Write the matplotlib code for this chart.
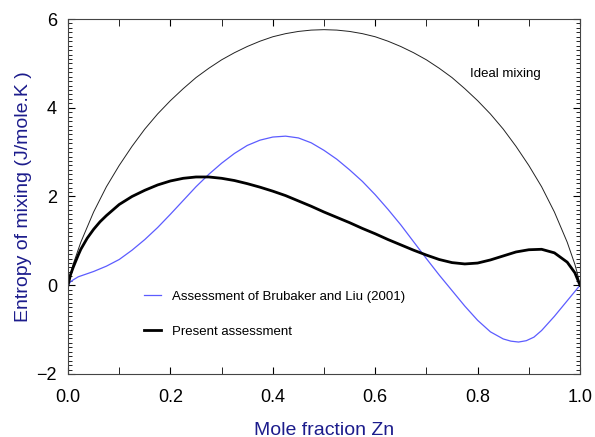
import matplotlib.pyplot as plt
from matplotlib.ticker import MultipleLocator

plt.rcParams['font.family'] = ['Liberation Sans', 'DejaVu Sans']

# ideal mixing curve
x_ideal = [0, 0.005, 0.01, 0.025, 0.05, 0.075, 0.1, 0.125, 0.15, 0.175, 0.2, 0.225, 0.25,
           0.275, 0.3, 0.325, 0.35, 0.375, 0.4, 0.425, 0.45, 0.475, 0.5, 0.525, 0.55, 0.575,
           0.6, 0.625, 0.65, 0.675, 0.7, 0.725, 0.75, 0.775, 0.8, 0.825, 0.85, 0.875, 0.9,
           0.925, 0.95, 0.975, 0.99, 0.995, 1.0]
s_ideal = [0, 0.26, 0.47, 0.97, 1.65, 2.22, 2.70, 3.13, 3.52, 3.86, 4.16, 4.43, 4.68,
           4.89, 5.08, 5.24, 5.38, 5.50, 5.60, 5.67, 5.72, 5.75, 5.76, 5.75, 5.72, 5.67,
           5.60, 5.50, 5.38, 5.24, 5.08, 4.89, 4.68, 4.43, 4.16, 3.86, 3.52, 3.13, 2.70,
           2.22, 1.65, 0.97, 0.47, 0.26, 0]

# Brubaker and Liu (2001)
x_brub = [0, 0.005, 0.01, 0.02, 0.025, 0.05, 0.075, 0.1, 0.125, 0.15, 0.175, 0.2, 0.225,
          0.25, 0.275, 0.3, 0.325, 0.35, 0.375, 0.4, 0.425, 0.45, 0.475, 0.5, 0.525, 0.55,
          0.575, 0.6, 0.625, 0.65, 0.675, 0.7, 0.725, 0.75, 0.775, 0.8, 0.825, 0.85, 0.865,
          0.88, 0.895, 0.91, 0.925, 0.95, 0.975, 1.0]
s_brub = [0, 0.08, 0.12, 0.19, 0.21, 0.31, 0.43, 0.58, 0.79, 1.03, 1.30, 1.60, 1.91,
          2.22, 2.50, 2.75, 2.97, 3.15, 3.27, 3.34, 3.36, 3.32, 3.21, 3.04, 2.84, 2.60,
          2.34, 2.04, 1.71, 1.36, 0.98, 0.60, 0.23, -0.12, -0.47, -0.79, -1.05, -1.21, -1.26,
          -1.28, -1.25, -1.17, -1.02, -0.70, -0.35, 0.0]

# present assessment
x_pres = [0, 0.005, 0.01, 0.02, 0.025, 0.0375, 0.05, 0.0625, 0.075, 0.1, 0.125, 0.15, 0.175,
          0.2, 0.225, 0.25, 0.275, 0.3, 0.325, 0.35, 0.375, 0.4, 0.425, 0.45, 0.475, 0.5,
          0.525, 0.55, 0.575, 0.6, 0.625, 0.65, 0.675, 0.7, 0.725, 0.75, 0.775, 0.8, 0.825,
          0.85, 0.875, 0.9, 0.925, 0.95, 0.975, 0.99, 1.0]
s_pres = [0, 0.24, 0.40, 0.68, 0.81, 1.06, 1.26, 1.43, 1.57, 1.82, 2.00, 2.14, 2.26,
          2.35, 2.41, 2.44, 2.44, 2.41, 2.36, 2.29, 2.21, 2.12, 2.02, 1.90, 1.78, 1.65,
          1.53, 1.41, 1.28, 1.16, 1.03, 0.91, 0.79, 0.68, 0.58, 0.51, 0.48, 0.50, 0.57,
          0.66, 0.75, 0.80, 0.81, 0.73, 0.52, 0.28, 0.0]

navy = '#1c1c8c'

fig = plt.figure(figsize=(5.95, 4.37), dpi=100)
ax = fig.add_axes([0.1143, 0.1442, 0.8605, 0.8123])

ax.plot(x_ideal, s_ideal, color='#222222', lw=0.7)
ax.plot(x_brub, s_brub, color='#5c5cff', lw=0.9, label='Assessment of Brubaker and Liu (2001)')
ax.plot(x_pres, s_pres, color='black', lw=2.0, label='Present assessment')

ax.text(0.785, 4.75, 'Ideal mixing', fontsize=9.5, ha='left', va='center')

ax.set_xlim(0, 1.0)
ax.set_ylim(-2, 6)
ax.xaxis.set_major_locator(MultipleLocator(0.2))
ax.xaxis.set_minor_locator(MultipleLocator(0.1))
ax.yaxis.set_major_locator(MultipleLocator(2))
ax.yaxis.set_minor_locator(MultipleLocator(0.1))
ax.xaxis.set_major_formatter(plt.FormatStrFormatter('%.1f'))
ax.tick_params(which='both', direction='in', top=True, right=True, labelsize=13)
ax.tick_params(axis='x', pad=11)
ax.tick_params(axis='y', pad=8)
ax.tick_params(which='major', length=5, width=0.8)
ax.tick_params(which='minor', length=3, width=0.6)
ax.tick_params(axis='x', which='minor', length=5)
for sp in ax.spines.values():
    sp.set_color('#444444')
    sp.set_linewidth(0.8)

ax.set_xlabel('Mole fraction Zn', fontsize=14, color=navy, labelpad=11)
ax.set_ylabel('Entropy of mixing (J/mole.K )', fontsize=14, color=navy, labelpad=3)

ax.legend(loc='upper left', bbox_to_anchor=(0.125, 0.268), frameon=False, fontsize=9.5,
          handlelength=1.3, labelspacing=1.73, handletextpad=0.8)

fig.savefig('out.png', dpi=100)
